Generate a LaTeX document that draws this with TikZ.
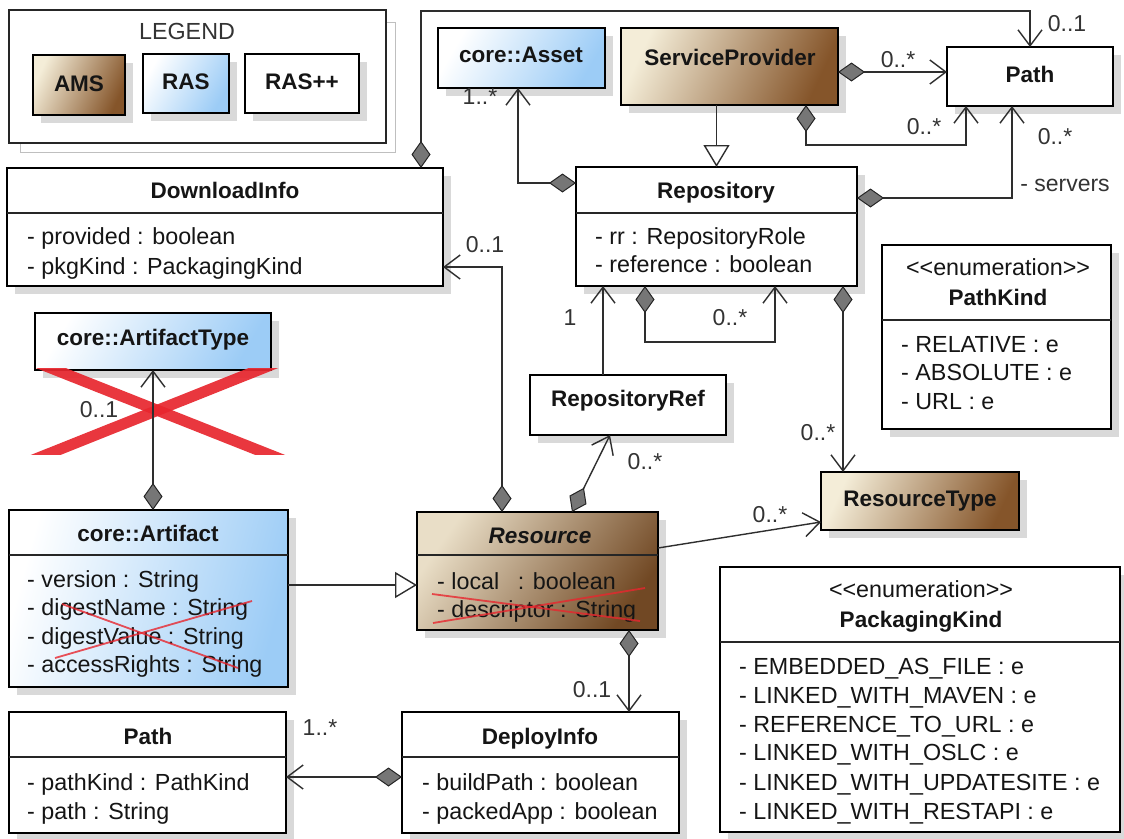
\documentclass[tikz,border=0pt]{standalone}
\usepackage{fontspec}
\setmainfont{Liberation Sans}
\usetikzlibrary{arrows.meta,shadows}

\definecolor{amsL}{HTML}{F4EDD8}
\definecolor{amsD}{HTML}{85552A}
\definecolor{rasD}{HTML}{9CCCF6}
\definecolor{ink}{HTML}{151515}
\definecolor{wire}{HTML}{2E2E2E}
\definecolor{strike}{HTML}{E8262E}
\definecolor{diam}{HTML}{767676}

% class box from its corners (x1,y1)-(x2,y2)
\newcommand\umlbox[6]{%
  \node[box,#6,minimum width={(#4-#2)*1pt},minimum height={(#5-#3)*1pt}]
    (#1) at ({(#2+#4)/2},{(#3+#5)/2}) {};}

\begin{document}
\begin{tikzpicture}[x=1pt,y=-1pt,
  box/.style={draw=black,line width=2.6pt,fill=white,inner sep=0pt,outer sep=0pt,
    general shadow={fill=black!15,shadow xshift=8pt,shadow yshift=-8pt}},
  ams/.style={left color=amsL,right color=amsD,shading angle=65},
  ras/.style={left color=white,right color=rasD,shading angle=60},
  sepline/.style={draw=black!85,line width=1.5pt},
  title/.style={font=\fontsize{22.5}{26}\selectfont\bfseries,inner sep=0pt,anchor=mid,yshift=-4pt,text=ink},
  plain/.style={font=\fontsize{23.3}{27}\selectfont,inner sep=0pt,anchor=mid,yshift=-4pt,text=ink},
  attr/.style={font=\fontsize{23.3}{27}\selectfont,inner sep=0pt,anchor=mid west,yshift=-4pt,text=ink},
  mult/.style={font=\fontsize{23}{27}\selectfont,inner sep=0pt,anchor=mid,yshift=-4pt,text=black!80},
  conn/.style={draw=wire,line width=1.4pt},
  comp/.style={conn,{Diamond[length=27pt,width=19pt,fill=diam,color=black!85,line width=1pt]}-{Straight Barb[length=16pt,width=24pt]}},
  assoc/.style={conn,-{Straight Barb[length=16pt,width=24pt]}},
  gen/.style={conn,-{Triangle[open,length=22pt,width=26pt,fill=white]}},
  xmark/.style={draw=strike,line width=11pt,opacity=0.92},
  cross/.style={draw=strike,line width=1.8pt,opacity=0.8}
]
\useasboundingbox (0,0) rectangle (1124,838);
\fill[white] (0,0) rectangle (1124,838);

% ---------- legend ----------
\draw[black!25,line width=1pt] (20,22) rectangle (395,152);
\node[draw=black!85,line width=1.8pt,fill=white,inner sep=0pt,outer sep=0pt,
  minimum width=377pt,minimum height=133pt] (legend) at (197.5,76.5) {};
\node[plain,text=black!80] (legend-t) at (187,33) {LEGEND};
\umlbox{ams}{33}{55}{125}{115}{ams}
\umlbox{ras}{143}{54}{229}{113}{ras}
\umlbox{rasp}{245}{54}{359}{113}{}
\node[title] (ams-t) at (79,85) {AMS};
\node[title] (ras-t) at (186,83) {RAS};
\node[title] (rasp-t) at (302,83) {RAS++};

% ---------- classes ----------
\umlbox{asset}{438}{28}{605}{88}{ras}
\node[title] (asset-t) at (521,56) {core::Asset};

\umlbox{sp}{621}{28}{838}{105}{ams}
\node[title] (sp-t) at (730,59) {ServiceProvider};

\umlbox{p1}{947}{47}{1113}{106}{}
\node[title] (p1-t) at (1030,76) {Path};

\umlbox{di}{7}{168}{443}{286}{}
\draw[sepline] (7,213) -- (443,213);
\node[title] (di-t) at (225,192) {DownloadInfo};
\node[attr] (di-a1) at (27,238) {- provided : boolean};
\node[attr] (di-a2) at (27,268) {- pkgKind : PackagingKind};

\umlbox{rep}{576}{167}{857}{286}{}
\draw[sepline] (576,213) -- (857,213);
\node[title] (rep-t) at (716,192) {Repository};
\node[attr] (rep-a1) at (595,238) {- rr : RepositoryRole};
\node[attr] (rep-a2) at (595,266) {- reference : boolean};

\umlbox{pk}{882}{245}{1111}{429}{}
\draw[sepline] (882,320) -- (1111,320);
\node[plain] (pk-s) at (998,269) {<\kern0pt<enumeration>\kern0pt>};
\node[title] (pk-t) at (998,299) {PathKind};
\node[attr] (pk-a1) at (901,346) {- RELATIVE : e};
\node[attr] (pk-a2) at (901,374) {- ABSOLUTE : e};
\node[attr] (pk-a3) at (901,403) {- URL : e};

\umlbox{at}{35}{313}{271}{370}{ras}
\node[title] (at-t) at (153,339) {core::ArtifactType};

\umlbox{rr}{530}{375}{726}{435}{}
\node[title] (rr-t) at (628,400) {RepositoryRef};

\umlbox{rt}{821}{472}{1019}{530}{ams}
\node[title] (rt-t) at (920,500) {ResourceType};

\umlbox{art}{9}{510}{288}{687}{ras,shading angle=75}
\draw[sepline] (9,555) -- (288,555);
\node[title] (art-t) at (148,535) {core::Artifact};
\node[attr] (art-a1) at (27,581) {- version : String};
\node[attr] (art-a2) at (27,609) {- digestName : String};
\node[attr] (art-a3) at (27,638) {- digestValue : String};
\node[attr] (art-a4) at (27,666) {- accessRights : String};

\umlbox{res}{417}{512}{658}{630}{left color=amsL!90!amsD,right color=amsD!85!black,shading angle=55}
\draw[sepline] (417,555) -- (658,555);
\node[title,font=\fontsize{22.5}{26}\selectfont\bfseries\itshape] (res-t) at (540,537) {Resource};
\node[attr] (res-a1) at (437,583) {- local\hspace{12pt} : boolean};
\node[attr] (res-a2) at (437,611) {- descriptor : String};

\umlbox{p2}{9}{712}{286}{833}{}
\draw[sepline] (9,757) -- (286,757);
\node[title] (p2-t) at (148,738) {Path};
\node[attr] (p2-a1) at (27,784) {- pathKind : PathKind};
\node[attr] (p2-a2) at (27,813) {- path : String};

\umlbox{dep}{402}{712}{679}{833}{}
\draw[sepline] (402,757) -- (679,757);
\node[title] (dep-t) at (540,738) {DeployInfo};
\node[attr] (dep-a1) at (422,784) {- buildPath : boolean};
\node[attr] (dep-a2) at (422,813) {- packedApp : boolean};

\umlbox{pkg}{720}{567}{1120}{832}{}
\draw[sepline] (720,642) -- (1120,642);
\node[plain] (pkg-s) at (921,591) {<\kern0pt<enumeration>\kern0pt>};
\node[title] (pkg-t) at (921,621) {PackagingKind};
\node[attr] (pkg-a1) at (739,668) {- EMBEDDED\_AS\_FILE : e};
\node[attr] (pkg-a2) at (739,697) {- LINKED\_WITH\_MAVEN : e};
\node[attr] (pkg-a3) at (739,726) {- REFERENCE\_TO\_URL : e};
\node[attr] (pkg-a4) at (739,754) {- LINKED\_WITH\_OSLC : e};
\node[attr] (pkg-a5) at (739,784) {- LINKED\_WITH\_UPDATESITE : e};
\node[attr] (pkg-a6) at (739,813) {- LINKED\_WITH\_RESTAPI : e};

% ---------- removed elements ----------
\begin{scope}
  \clip (20,368) rectangle (300,454);
  \draw[xmark] (28,359) -- (288,462);
  \draw[xmark] (286,359) -- (28,462);
\end{scope}
\draw[cross] (62,604) -- (238,668);
\draw[cross] (55,658) -- (252,601);
\draw[cross] (433,623) -- (645,588);
\draw[cross] (432,594) -- (640,621);

% ---------- connectors ----------
\draw[comp] ([xshift=-22pt]di.north east) -- ++(0,-157) -| (p1.north);
\draw[comp] ([yshift=-5.5pt]sp.east) coordinate (spR) -- (spR -| p1.west);
\draw[comp] ([xshift=-32pt]sp.south east) -- ++(0,40) -| ([xshift=-64pt]p1.south);
\draw[comp] ([yshift=28.5pt]rep.east) -| ([xshift=-18pt]p1.south);
\draw[comp] ([yshift=43.5pt]rep.west) -| ([xshift=-3.5pt]asset.south);
\draw[gen] (sp.south -| rep.north) -- (rep.north);
\draw[comp] ([xshift=85pt]res.north west) |- ([yshift=-40pt]di.east);
\draw[comp] ([xshift=155pt]res.north west) -- ([xshift=-18pt]rr.south);
\draw[assoc] ([xshift=-25pt]rr.north) coordinate (rrT) -- (rrT |- rep.south);
\draw[comp] ([xshift=-71.5pt]rep.south) -- ++(0,56) -| ([xshift=58.5pt]rep.south);
\draw[comp] ([xshift=-14pt]rep.south east) coordinate (repD) -- (repD |- rt.north);
\draw[assoc] ([yshift=23pt]res.east) -- ([yshift=-21pt]rt.west);
\draw[comp] (art.north -| at.south) -- (at.south);
\draw[gen] ([yshift=13.5pt]art.east) coordinate (artR) -- (artR -| res.west);
\draw[comp] ([xshift=-29pt]res.south east) coordinate (resD) -- (resD |- dep.north);
\draw[comp] ([yshift=-4.5pt]dep.west) coordinate (depL) -- (depL -| p2.east);

% ---------- multiplicities and roles ----------
\node[mult] (m1) at (1067,25) {0..1};
\node[mult] (m2) at (898,61) {0..*};
\node[mult] (m3) at (924,128) {0..*};
\node[mult] (m4) at (1055,138) {0..*};
\node[mult] (m5) at (1065,185) {- servers};
\node[mult] (m6) at (480,98) {1..*};
\node[mult] (m7) at (485,246) {0..1};
\node[mult] (m8) at (570,319) {1};
\node[mult] (m9) at (730,319) {0..*};
\node[mult] (m10) at (645,463) {0..*};
\node[mult] (m11) at (818,434) {0..*};
\node[mult] (m12) at (770,516) {0..*};
\node[mult] (m13) at (99,411) {0..1};
\node[mult] (m14) at (592,691) {0..1};
\node[mult] (m15) at (320,729) {1..*};
\end{tikzpicture}
\end{document}
